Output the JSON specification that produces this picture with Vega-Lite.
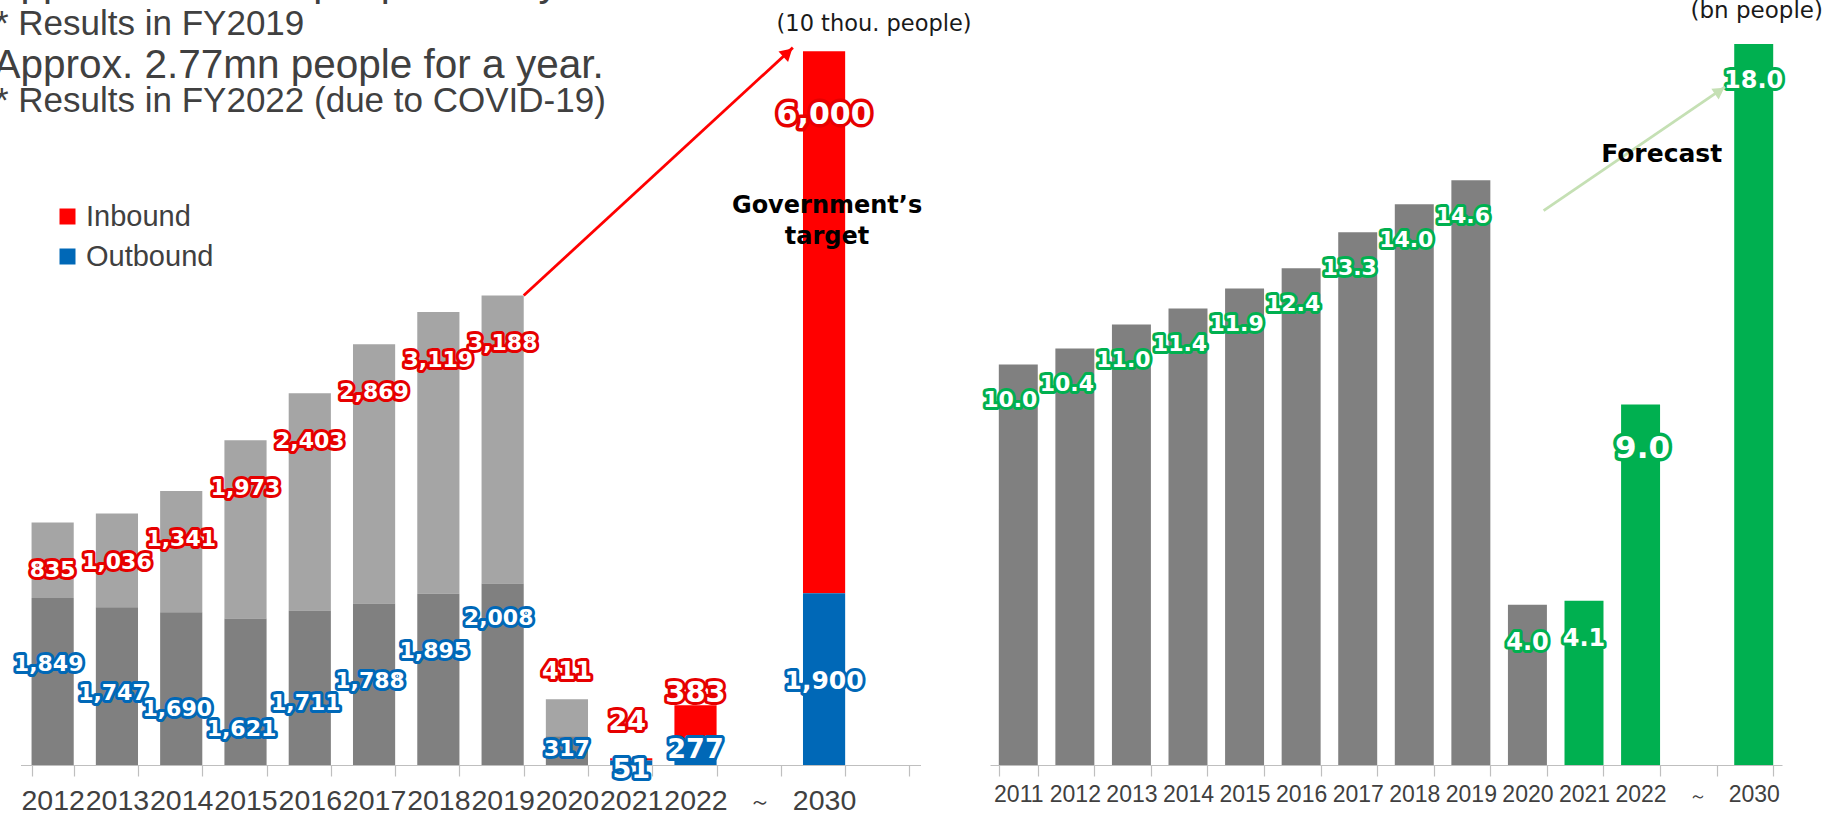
{
  "$schema": "https://vega.github.io/schema/vega-lite/v6.json",
  "width": 1828,
  "height": 765,
  "padding": 0,
  "autosize": {"type": "pad"},
  "background": "#ffffff",
  "config": {"view": {"stroke": null}, "axis": {"grid": false}},
  "datasets": {
    "left": [
      {"year": "2012", "type": "Inbound", "value": 835},
      {"year": "2012", "type": "Outbound", "value": 1849},
      {"year": "2013", "type": "Inbound", "value": 1036},
      {"year": "2013", "type": "Outbound", "value": 1747},
      {"year": "2014", "type": "Inbound", "value": 1341},
      {"year": "2014", "type": "Outbound", "value": 1690},
      {"year": "2015", "type": "Inbound", "value": 1973},
      {"year": "2015", "type": "Outbound", "value": 1621},
      {"year": "2016", "type": "Inbound", "value": 2403},
      {"year": "2016", "type": "Outbound", "value": 1711},
      {"year": "2017", "type": "Inbound", "value": 2869},
      {"year": "2017", "type": "Outbound", "value": 1788},
      {"year": "2018", "type": "Inbound", "value": 3119},
      {"year": "2018", "type": "Outbound", "value": 1895},
      {"year": "2019", "type": "Inbound", "value": 3188},
      {"year": "2019", "type": "Outbound", "value": 2008},
      {"year": "2020", "type": "Inbound", "value": 411},
      {"year": "2020", "type": "Outbound", "value": 317},
      {"year": "2021", "type": "Inbound", "value": 24},
      {"year": "2021", "type": "Outbound", "value": 51},
      {"year": "2022", "type": "Inbound", "value": 383},
      {"year": "2022", "type": "Outbound", "value": 277},
      {"year": "2030", "type": "Inbound", "value": 6000},
      {"year": "2030", "type": "Outbound", "value": 1900}
    ],
    "right": [
      {"year": "2011", "value": 10.0},
      {"year": "2012", "value": 10.4},
      {"year": "2013", "value": 11.0},
      {"year": "2014", "value": 11.4},
      {"year": "2015", "value": 11.9},
      {"year": "2016", "value": 12.4},
      {"year": "2017", "value": 13.3},
      {"year": "2018", "value": 14.0},
      {"year": "2019", "value": 14.6},
      {"year": "2020", "value": 4.0},
      {"year": "2021", "value": 4.1},
      {"year": "2022", "value": 9.0},
      {"year": "2030", "value": 18.0}
    ],
    "note": [{"note": 1}]
  },
  "resolve": {"scale": {"x": "independent", "y": "independent"}, "axis": {"x": "independent", "y": "independent"}},
  "layer": [
    {
      "data": {"name": "left"},
      "transform": [{"stack": "value", "groupby": ["year"], "sort": [{"field": "type", "order": "descending"}], "as": ["v0", "v1"]}],
      "encoding": {
        "x": {
          "field": "year", "type": "nominal",
          "scale": {"type": "band", "domain": ["2012","2013","2014","2015","2016","2017","2018","2019","2020","2021","2022","~","2030","end"], "range": [20.5, 920.5], "paddingInner": 0.344, "paddingOuter": 0.172},
          "axis": {
            "orient": "bottom", "title": null, "labelAngle": 0, "grid": false,
            "domainColor": "#bfbfbf", "domainWidth": 1.2, "tickColor": "#bfbfbf", "tickWidth": 1.2, "tickSize": 11, "tickBand": "extent",
            "labelFont": "Liberation Sans",
            "labelFontSize": {"condition": {"test": "datum.value === '~'", "value": 22}, "value": 28.5},
            "labelPadding": {"condition": {"test": "datum.value === '~'", "value": 15}, "value": 10},
            "labelColor": "#404040", "labelOverlap": false,
            "labelExpr": "datum.value === '~' ? '～' : (datum.value === 'end' ? '' : datum.value)"
          }
        }
      },
      "layer": [
        {
          "transform": [{"filter": {"field": "year", "oneOf": ["2012","2013","2014","2015","2016","2017","2018","2019","2020"]}}],
          "mark": {"type": "bar"},
          "encoding": {
            "y": {"field": "v1", "type": "quantitative", "scale": {"domain": [0, 8466], "nice": false, "zero": true}, "axis": null},
            "y2": {"field": "v0"},
            "color": {"condition": {"test": "datum.type === 'Outbound'", "value": "#808080"}, "value": "#a5a5a5"}
          }
        },
        {
          "transform": [{"filter": {"field": "year", "oneOf": ["2021","2022","2030"]}}],
          "mark": {"type": "bar"},
          "encoding": {
            "y": {"field": "v1", "type": "quantitative"},
            "y2": {"field": "v0"},
            "color": {
              "field": "type", "type": "nominal",
              "scale": {"domain": ["Inbound", "Outbound"], "range": ["#ff0000", "#0068b7"]},
              "legend": {"orient": "none", "legendX": 53, "legendY": 202, "direction": "vertical", "title": null, "padding": 0,
                "symbolType": "square", "symbolSize": 256, "symbolStrokeWidth": 0, "symbolOpacity": 1,
                "labelFont": "Liberation Sans", "labelFontSize": 29, "labelColor": "#404040", "labelOffset": 4, "rowPadding": 10}
            }
          }
        },
        {
          "transform": [{"filter": {"and": [{"field": "type", "equal": "Inbound"}, {"field": "year", "oneOf": ["2012","2013","2014","2015","2016","2017","2018","2019"]}]}}],
          "encoding": {"y": {"field": "v1", "type": "quantitative"}, "text": {"field": "value", "type": "quantitative", "format": ","}},
          "layer": [
            {"mark": {"type": "text", "font": "DejaVu Sans", "fontWeight": "bold", "fontSize": 22, "baseline": "middle", "dy": 48, "fill": "#e60000", "stroke": "#e60000", "strokeWidth": 6, "strokeJoin": "round"}},
            {"mark": {"type": "text", "font": "DejaVu Sans", "fontWeight": "bold", "fontSize": 22, "baseline": "middle", "dy": 48, "fill": "#ffffff"}}
          ]
        },
        {
          "transform": [{"filter": {"and": [{"field": "type", "equal": "Inbound"}, {"field": "year", "equal": "2020"}]}}],
          "encoding": {"y": {"field": "v1", "type": "quantitative"}, "text": {"field": "value", "type": "quantitative", "format": ","}},
          "layer": [
            {"mark": {"type": "text", "font": "DejaVu Sans", "fontWeight": "bold", "fontSize": 24, "baseline": "middle", "dy": -27, "fill": "#e60000", "stroke": "#e60000", "strokeWidth": 6, "strokeJoin": "round"}},
            {"mark": {"type": "text", "font": "DejaVu Sans", "fontWeight": "bold", "fontSize": 24, "baseline": "middle", "dy": -27, "fill": "#ffffff"}}
          ]
        },
        {
          "transform": [{"filter": {"and": [{"field": "type", "equal": "Inbound"}, {"field": "year", "equal": "2021"}]}}],
          "encoding": {"y": {"field": "v1", "type": "quantitative"}, "text": {"field": "value", "type": "quantitative", "format": ","}},
          "layer": [
            {"mark": {"type": "text", "font": "DejaVu Sans", "fontWeight": "bold", "fontSize": 27, "baseline": "middle", "dy": -36, "dx": -4, "fill": "#e60000", "stroke": "#e60000", "strokeWidth": 6, "strokeJoin": "round"}},
            {"mark": {"type": "text", "font": "DejaVu Sans", "fontWeight": "bold", "fontSize": 27, "baseline": "middle", "dy": -36, "dx": -4, "fill": "#ffffff"}}
          ]
        },
        {
          "transform": [{"filter": {"and": [{"field": "type", "equal": "Inbound"}, {"field": "year", "equal": "2022"}]}}],
          "encoding": {"y": {"field": "v1", "type": "quantitative"}, "text": {"field": "value", "type": "quantitative", "format": ","}},
          "layer": [
            {"mark": {"type": "text", "font": "DejaVu Sans", "fontWeight": "bold", "fontSize": 29, "baseline": "middle", "dy": -12, "fill": "#e60000", "stroke": "#e60000", "strokeWidth": 6, "strokeJoin": "round"}},
            {"mark": {"type": "text", "font": "DejaVu Sans", "fontWeight": "bold", "fontSize": 29, "baseline": "middle", "dy": -12, "fill": "#ffffff"}}
          ]
        },
        {
          "transform": [{"filter": {"and": [{"field": "type", "equal": "Inbound"}, {"field": "year", "equal": "2030"}]}}],
          "encoding": {"y": {"field": "v1", "type": "quantitative"}, "text": {"field": "value", "type": "quantitative", "format": ","}},
          "layer": [
            {"mark": {"type": "text", "font": "DejaVu Sans", "fontWeight": "bold", "fontSize": 30, "baseline": "middle", "dy": 64, "fill": "#e60000", "stroke": "#e60000", "strokeWidth": 7, "strokeJoin": "round"}},
            {"mark": {"type": "text", "font": "DejaVu Sans", "fontWeight": "bold", "fontSize": 30, "baseline": "middle", "dy": 64, "fill": "#ffffff"}}
          ]
        },
        {
          "transform": [{"filter": {"and": [{"field": "type", "equal": "Outbound"}, {"field": "year", "equal": "2020"}]}}],
          "encoding": {"y": {"field": "v1", "type": "quantitative"}, "text": {"field": "value", "type": "quantitative", "format": ","}},
          "layer": [
            {"mark": {"type": "text", "font": "DejaVu Sans", "fontWeight": "bold", "fontSize": 22, "baseline": "middle", "dy": 13, "fill": "#0068b7", "stroke": "#0068b7", "strokeWidth": 6, "strokeJoin": "round"}},
            {"mark": {"type": "text", "font": "DejaVu Sans", "fontWeight": "bold", "fontSize": 22, "baseline": "middle", "dy": 13, "fill": "#ffffff"}}
          ]
        },
        {
          "transform": [{"filter": {"and": [{"field": "type", "equal": "Outbound"}, {"field": "year", "oneOf": ["2021", "2022"]}]}}],
          "encoding": {"y": {"field": "v1", "type": "quantitative"}, "text": {"field": "value", "type": "quantitative", "format": ","}},
          "layer": [
            {"mark": {"type": "text", "font": "DejaVu Sans", "fontWeight": "bold", "fontSize": 27, "baseline": "middle", "dy": 10, "fill": "#0068b7", "stroke": "#0068b7", "strokeWidth": 6, "strokeJoin": "round"}},
            {"mark": {"type": "text", "font": "DejaVu Sans", "fontWeight": "bold", "fontSize": 27, "baseline": "middle", "dy": 10, "fill": "#ffffff"}}
          ]
        },
        {
          "transform": [{"filter": {"and": [{"field": "type", "equal": "Outbound"}, {"field": "year", "equal": "2030"}]}}],
          "encoding": {"y": {"field": "v1", "type": "quantitative"}, "text": {"field": "value", "type": "quantitative", "format": ","}},
          "layer": [
            {"mark": {"type": "text", "font": "DejaVu Sans", "fontWeight": "bold", "fontSize": 25, "baseline": "middle", "dy": 88, "fill": "#0068b7", "stroke": "#0068b7", "strokeWidth": 6, "strokeJoin": "round"}},
            {"mark": {"type": "text", "font": "DejaVu Sans", "fontWeight": "bold", "fontSize": 25, "baseline": "middle", "dy": 88, "fill": "#ffffff"}}
          ]
        },
        {
          "data": {"name": "note"},
          "layer": [
            {
              "mark": {"type": "rule", "color": "#ff0000", "strokeWidth": 2.8},
              "encoding": {
                "x": {"datum": "2019", "bandPosition": 1},
                "x2": {"datum": "2030", "bandPosition": -0.24},
                "y": {"datum": 5196},
                "y2": {"datum": 7939}
              }
            },
            {
              "mark": {"type": "point", "shape": "triangle-up", "filled": true, "color": "#ff0000", "opacity": 1, "size": 200, "angle": 47.4},
              "encoding": {"x": {"datum": "2030", "bandPosition": -0.36}, "y": {"datum": 7883}}
            },
            {
              "mark": {"type": "text", "text": ["Government’s", "target"], "font": "DejaVu Sans", "fontWeight": "bold", "fontSize": 24, "align": "center", "baseline": "alphabetic", "lineHeight": 31, "dx": 3, "color": "#000000"},
              "encoding": {"x": {"datum": "2030"}, "y": {"datum": 6109}}
            },
            {
              "mark": {"type": "text", "text": "(10 thou. people)", "font": "DejaVu Sans", "fontWeight": 400, "fontSize": 22.5, "align": "center", "baseline": "alphabetic", "dx": 50, "color": "#1a1a1a"},
              "encoding": {"x": {"datum": "2030"}, "y": {"datum": 8123}}
            },
            {
              "mark": {"type": "text", "text": "Approx. 31.88mn people for a year.", "font": "Liberation Sans", "fontWeight": 400, "fontSize": 40.5, "align": "left", "baseline": "alphabetic", "dx": -38, "color": "#404040", "clip": true},
              "encoding": {"x": {"datum": "2012", "bandPosition": 0}, "y": {"datum": 8510}}
            },
            {
              "mark": {"type": "text", "text": "* Results in FY2019", "font": "Liberation Sans", "fontWeight": 400, "fontSize": 35, "align": "left", "baseline": "alphabetic", "dx": -36.6, "color": "#404040", "clip": true},
              "encoding": {"x": {"datum": "2012", "bandPosition": 0}, "y": {"datum": 8079}}
            },
            {
              "mark": {"type": "text", "text": "Approx. 2.77mn people for a year.", "font": "Liberation Sans", "fontWeight": 400, "fontSize": 40.5, "align": "left", "baseline": "alphabetic", "dx": -38, "color": "#404040", "clip": true},
              "encoding": {"x": {"datum": "2012", "bandPosition": 0}, "y": {"datum": 7603}}
            },
            {
              "mark": {"type": "text", "text": "* Results in FY2022 (due to COVID-19)", "font": "Liberation Sans", "fontWeight": 400, "fontSize": 35, "align": "left", "baseline": "alphabetic", "dx": -36.6, "color": "#404040", "clip": true},
              "encoding": {"x": {"datum": "2012", "bandPosition": 0}, "y": {"datum": 7227}}
            }
          ]
        }
      ]
    },
    {
      "data": {"name": "left"},
      "transform": [{"filter": {"and": [{"field": "type", "equal": "Outbound"}, {"field": "year", "oneOf": ["2012","2013","2014","2015","2016","2017","2018","2019"]}]}}],
      "encoding": {
        "x": {
          "field": "year", "type": "nominal",
          "scale": {"type": "band", "domain": ["2012","2013","2014","2015","2016","2017","2018","2019","2020","2021","2022","~","2030","end"], "range": [20.5, 920.5], "paddingInner": 0.344, "paddingOuter": 0.172},
          "axis": null
        },
        "y": {"field": "value", "type": "quantitative", "scale": {"domain": [1494, 4175], "nice": false, "zero": false}, "axis": null},
        "text": {"field": "value", "type": "quantitative", "format": ","}
      },
      "layer": [
        {"mark": {"type": "text", "font": "DejaVu Sans", "fontWeight": "bold", "fontSize": 22, "baseline": "middle", "dx": -4, "fill": "#0068b7", "stroke": "#0068b7", "strokeWidth": 6, "strokeJoin": "round"}},
        {"mark": {"type": "text", "font": "DejaVu Sans", "fontWeight": "bold", "fontSize": 22, "baseline": "middle", "dx": -4, "fill": "#ffffff"}}
      ]
    },
    {
      "data": {"name": "right"},
      "encoding": {
        "x": {
          "field": "year", "type": "nominal",
          "scale": {"type": "band", "domain": ["2011","2012","2013","2014","2015","2016","2017","2018","2019","2020","2021","2022","~","2030"], "range": [990, 1782], "paddingInner": 0.311, "paddingOuter": 0.1555},
          "axis": {
            "orient": "bottom", "title": null, "labelAngle": 0, "grid": false,
            "domainColor": "#bfbfbf", "domainWidth": 1.2, "tickColor": "#bfbfbf", "tickWidth": 1.2, "tickSize": 11, "tickBand": "extent",
            "labelFont": "Liberation Sans",
            "labelFontSize": {"condition": {"test": "datum.value === '~'", "value": 18}, "value": 23},
            "labelPadding": {"condition": {"test": "datum.value === '~'", "value": 11}, "value": 7},
            "labelColor": "#404040", "labelOverlap": false,
            "labelExpr": "datum.value === '~' ? '～' : datum.value"
          }
        }
      },
      "layer": [
        {
          "mark": {"type": "bar"},
          "encoding": {
            "y": {"field": "value", "type": "quantitative", "scale": {"domain": [0, 19.1], "nice": false, "zero": true}, "axis": null},
            "color": {"condition": {"test": "indexof(['2021','2022','2030'], datum.year) >= 0", "value": "#00b050"}, "value": "#808080"}
          }
        },
        {
          "transform": [{"filter": {"field": "year", "oneOf": ["2011","2012","2013","2014","2015","2016","2017","2018","2019"]}}],
          "encoding": {"y": {"field": "value", "type": "quantitative"}, "text": {"field": "value", "type": "quantitative", "format": ".1f"}},
          "layer": [
            {"mark": {"type": "text", "font": "DejaVu Sans", "fontWeight": "bold", "fontSize": 22, "baseline": "middle", "dx": -8, "dy": 36, "fill": "#00b050", "stroke": "#00b050", "strokeWidth": 6, "strokeJoin": "round"}},
            {"mark": {"type": "text", "font": "DejaVu Sans", "fontWeight": "bold", "fontSize": 22, "baseline": "middle", "dx": -8, "dy": 36, "fill": "#ffffff"}}
          ]
        },
        {
          "transform": [{"filter": {"field": "year", "oneOf": ["2020","2021"]}}],
          "encoding": {"y": {"field": "value", "type": "quantitative"}, "text": {"field": "value", "type": "quantitative", "format": ".1f"}},
          "layer": [
            {"mark": {"type": "text", "font": "DejaVu Sans", "fontWeight": "bold", "fontSize": 24, "baseline": "middle", "dy": 38, "fill": "#00b050", "stroke": "#00b050", "strokeWidth": 6, "strokeJoin": "round"}},
            {"mark": {"type": "text", "font": "DejaVu Sans", "fontWeight": "bold", "fontSize": 24, "baseline": "middle", "dy": 38, "fill": "#ffffff"}}
          ]
        },
        {
          "transform": [{"filter": {"field": "year", "equal": "2022"}}],
          "encoding": {"y": {"field": "value", "type": "quantitative"}, "text": {"field": "value", "type": "quantitative", "format": ".1f"}},
          "layer": [
            {"mark": {"type": "text", "font": "DejaVu Sans", "fontWeight": "bold", "fontSize": 31, "baseline": "middle", "dx": 2, "dy": 44, "fill": "#00b050", "stroke": "#00b050", "strokeWidth": 7, "strokeJoin": "round"}},
            {"mark": {"type": "text", "font": "DejaVu Sans", "fontWeight": "bold", "fontSize": 31, "baseline": "middle", "dx": 2, "dy": 44, "fill": "#ffffff"}}
          ]
        },
        {
          "transform": [{"filter": {"field": "year", "equal": "2030"}}],
          "encoding": {"y": {"field": "value", "type": "quantitative"}, "text": {"field": "value", "type": "quantitative", "format": ".1f"}},
          "layer": [
            {"mark": {"type": "text", "font": "DejaVu Sans", "fontWeight": "bold", "fontSize": 24, "baseline": "middle", "dy": 37, "fill": "#00b050", "stroke": "#00b050", "strokeWidth": 6, "strokeJoin": "round"}},
            {"mark": {"type": "text", "font": "DejaVu Sans", "fontWeight": "bold", "fontSize": 24, "baseline": "middle", "dy": 37, "fill": "#ffffff"}}
          ]
        },
        {
          "data": {"name": "note"},
          "layer": [
            {
              "mark": {"type": "rule", "color": "#c5e0b4", "strokeWidth": 2.8},
              "encoding": {
                "x": {"datum": "2020", "bandPosition": 0.915},
                "x2": {"datum": "2030", "bandPosition": -0.236},
                "y": {"datum": 13.84},
                "y2": {"datum": 16.93}
              }
            },
            {
              "mark": {"type": "point", "shape": "triangle-up", "filled": true, "color": "#c5e0b4", "opacity": 1, "size": 170, "angle": 55.7},
              "encoding": {"x": {"datum": "2030", "bandPosition": -0.374}, "y": {"datum": 16.83}}
            },
            {
              "mark": {"type": "text", "text": "Forecast", "font": "DejaVu Sans", "fontWeight": "bold", "fontSize": 25, "align": "center", "baseline": "alphabetic", "dx": -35.5, "color": "#000000"},
              "encoding": {"x": {"datum": "~"}, "y": {"datum": 15.06}}
            },
            {
              "mark": {"type": "text", "text": "(bn people)", "font": "DejaVu Sans", "fontWeight": 400, "fontSize": 23, "align": "center", "baseline": "alphabetic", "dx": 3, "color": "#1a1a1a", "clip": true},
              "encoding": {"x": {"datum": "2030"}, "y": {"datum": 18.65}}
            }
          ]
        }
      ]
    }
  ]
}
